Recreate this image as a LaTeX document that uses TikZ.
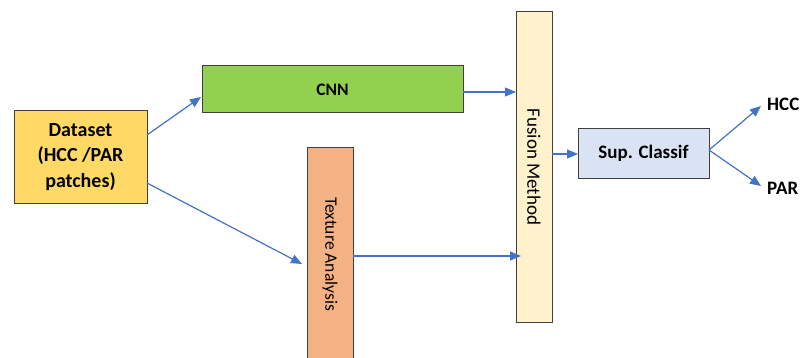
\documentclass[tikz,border=0pt]{standalone}
\usepackage{fontspec}
\setmainfont{Carlito}
\usetikzlibrary{arrows.meta}
\definecolor{dsfill}{HTML}{FFD966}
\definecolor{cnnfill}{HTML}{92D050}
\definecolor{texfill}{HTML}{F4B183}
\definecolor{fusfill}{HTML}{FFF2CC}
\definecolor{supfill}{HTML}{DAE3F3}
\definecolor{arr}{HTML}{4472C4}
\definecolor{edge}{HTML}{404040}
\tikzset{
  box/.style={draw=edge, line width=1pt, inner sep=0pt, outer sep=0pt},
  conn/.style={draw=arr, line width=1.2pt, -{Triangle[length=11pt,width=9pt]}},
  lbl/.style={font=\fontsize{19}{23}\selectfont\bfseries, inner sep=0pt},
}
\begin{document}
\begin{tikzpicture}[x=1pt,y=-1pt]
\useasboundingbox (0,0) rectangle (802,358);
\clip (0,0) rectangle (802,358);
% boxes
\node[box, fill=dsfill, minimum width=133pt, minimum height=92pt, align=center,
      font=\fontsize{20}{25.5}\selectfont\bfseries] (ds) at (80.5,157) {Dataset\\(HCC /PAR\\patches)};
\node[box, fill=cnnfill, minimum width=261pt, minimum height=47pt,
      font=\fontsize{17.5}{20}\selectfont\bfseries] (cnn) at (332.5,89.5) {CNN};
\node[box, fill=texfill, minimum width=46pt, minimum height=240pt] (tex) at (330,268) {};
\node[rotate=-90, font=\fontsize{17.5}{20}\selectfont, inner sep=0pt] (texl) at (330,254) {Texture Analysis};
\node[box, fill=fusfill, minimum width=36pt, minimum height=310pt] (fus) at (534,167) {};
\node[rotate=-90, font=\fontsize{19}{22}\selectfont, inner sep=0pt] (fusl) at (fus.center) {Fusion Method};
\node[box, fill=supfill, minimum width=131pt, minimum height=49pt,
      font=\fontsize{19}{22}\selectfont\bfseries] (sup) at (643.5,153.5) {Sup. Classif};
\node[lbl, anchor=west] (hcc) at (767,104) {HCC};
\node[lbl, anchor=west] (par) at (767,188) {PAR};
% connectors
\coordinate (ds1) at (147,135);
\coordinate (ds2) at (147,183);
\coordinate (cnnin) at (201,97);
\coordinate (texin) at (302,264);
\draw[conn] (ds1) -- (cnnin);
\draw[conn] (ds2) -- (texin);
\draw[conn] (cnn.east |- 0,92) -- (fus.west |- 0,92);
\draw[conn] (tex.east |- 0,256) -- (521,256);
\draw[conn] (fus.east |- 0,154) -- (sup.west |- 0,154);
\coordinate (supo) at (709,150);
\draw[conn] (supo) -- (761,106);
\draw[conn] (supo) -- (761,186);
\end{tikzpicture}
\end{document}
